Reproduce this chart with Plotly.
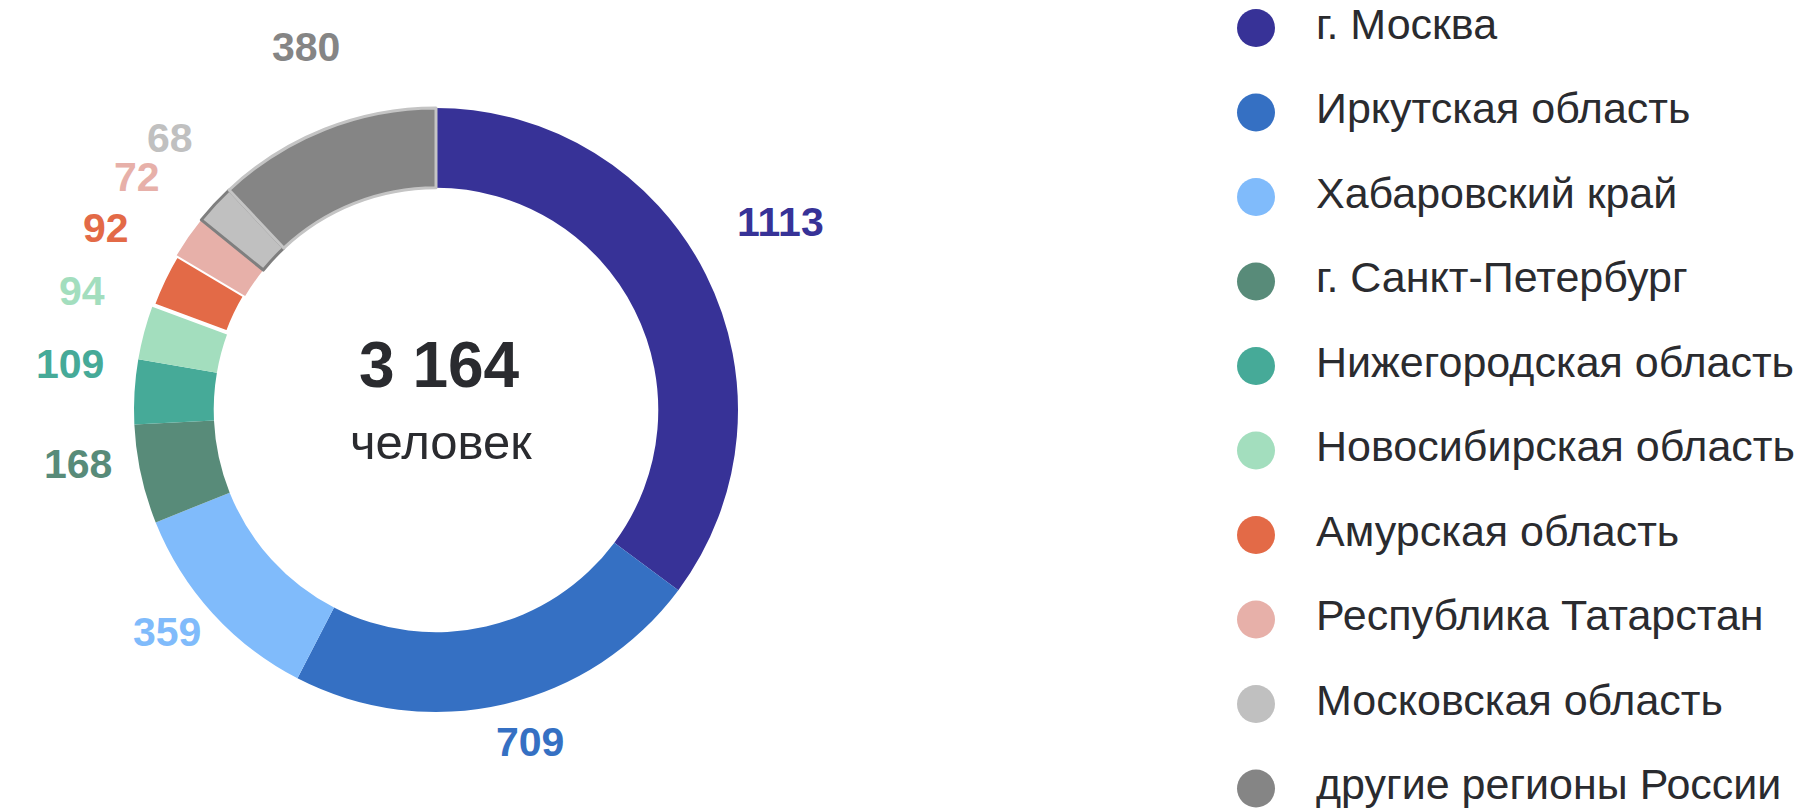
import math
import plotly.graph_objects as go

# ---- data ----
regions = [
    "г. Москва",
    "Иркутская область",
    "Хабаровский край",
    "г. Санкт-Петербург",
    "Нижегородская область",
    "Новосибирская область",
    "Амурская область",
    "Республика Татарстан",
    "Московская область",
    "другие регионы России",
]
counts = [1113, 709, 359, 168, 109, 94, 92, 72, 68, 380]
colors = ["#373297", "#3570C3", "#80BBFB", "#588B79", "#46AA98",
          "#A3DEBE", "#E36A47", "#E7B0A9", "#C0C0C0", "#858585"]
total_label = "3 164"
unit_label = "человек"

# ---- layout constants ----
W, H = 1799, 812
cx, cy, R = 436, 410, 302          # donut centre / outer radius in px
font = "Liberation Sans, Arial, sans-serif"
text_dark = "#2a2b2f"

line_colors = ["rgba(0,0,0,0)"] * len(counts)
line_widths = [0] * len(counts)
line_colors[6], line_widths[6] = "#ffffff", 4
line_colors[8], line_widths[8] = "#7f7f7f", 3
line_colors[9], line_widths[9] = "#c4c4c4", 3

fig = go.Figure()
fig.add_trace(go.Pie(
    labels=regions, values=counts, sort=False, direction="clockwise",
    rotation=0, hole=0.736, textinfo="none", showlegend=False,
    marker=dict(colors=colors, line=dict(color=line_colors, width=line_widths)),
    domain=dict(x=[(cx - R) / W, (cx + R) / W], y=[1 - (cy + R) / H, 1 - (cy - R) / H]),
    hoverinfo="label+value",
))

# outside value labels, placed around each slice's mid angle
annotations = []
tot = sum(counts)
cum = 0
rx, ry, sx, sy = 376, 365, 9, -24
for v, c in zip(counts, colors):
    mid = (cum + v / 2) / tot * 2 * math.pi
    cum += v
    px = cx + rx * math.sin(mid) + sx
    py = cy - ry * math.cos(mid) + sy
    annotations.append(dict(
        x=px / W, y=1 - py / H, xref="paper", yref="paper", text=f"<b>{v}</b>",
        showarrow=False, font=dict(family=font, size=41, color=c),
        xanchor="center", yanchor="middle"))

annotations.append(dict(x=(cx + 3) / W, y=1 - 365 / H, xref="paper", yref="paper",
                        text=f"<b>{total_label}</b>", showarrow=False,
                        xanchor="center", yanchor="middle",
                        font=dict(family=font, size=64, color=text_dark)))
annotations.append(dict(x=(cx + 5) / W, y=1 - 442 / H, xref="paper", yref="paper",
                        text=unit_label, showarrow=False,
                        xanchor="center", yanchor="middle",
                        font=dict(family=font, size=49, color=text_dark)))

# custom legend drawn on a hidden categorical axis
fig.add_trace(go.Scatter(
    x=[0] * len(regions), y=regions, mode="markers", cliponaxis=False,
    marker=dict(size=38, color=colors), showlegend=False, hoverinfo="skip"))
fig.add_trace(go.Scatter(
    x=[60] * len(regions), y=regions, mode="text", text=regions, cliponaxis=False,
    textposition="middle right", textfont=dict(family=font, size=43, color=text_dark),
    showlegend=False, hoverinfo="skip"))

fig.update_layout(
    width=W, height=H, margin=dict(l=0, r=0, t=0, b=0),
    paper_bgcolor="white", plot_bgcolor="rgba(0,0,0,0)",
    annotations=annotations,
    xaxis=dict(range=[-1256, W - 1256], visible=False, fixedrange=True),
    yaxis=dict(type="category", range=[9.278, -0.331], visible=False, fixedrange=True),
    font=dict(family=font),
)

fig.write_html("out.html", config={"displayModeBar": False},
               post_script="document.body.style.margin='0';")
